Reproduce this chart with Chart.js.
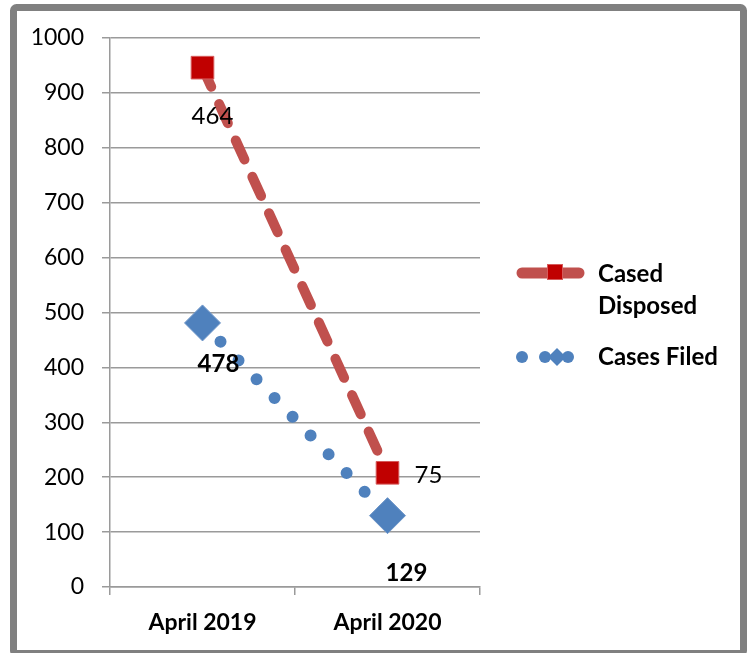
<!DOCTYPE html>
<html>
<head>
<meta charset="utf-8">
<script src="https://cdn.jsdelivr.net/npm/chart.js@4"></script>
<style>
  html, body { margin: 0; padding: 0; background: #ffffff; }
  #wrap { width: 750px; height: 653px; position: relative; }
</style>
</head>
<body>
<div id="wrap"><canvas id="c" width="750" height="653"></canvas></div>
<script>
const categories = ['April 2019', 'April 2020'];
const disposedValues = [946, 208];
const filedValues = [481, 130];
const disposedLabels = ['464', '75'];
const filedLabels = ['478', '129'];
const yTicks = [0, 100, 200, 300, 400, 500, 600, 700, 800, 900, 1000];
const seriesNames = [['Cased', 'Disposed'], ['Cases Filed']];

const FONT = 'Lato, "Open Sans", "Liberation Sans", sans-serif';
const RED_LINE = '#C0504D';
const RED_MARK = '#C00000';
const BLUE = '#4F81BD';
const GRID = '#9a9a9a';

const framePlugin = {
  id: 'frame',
  beforeDraw(chart) {
    const ctx = chart.ctx;
    ctx.save();
    ctx.fillStyle = '#ffffff';
    ctx.fillRect(0, 0, chart.width, chart.height);
    ctx.strokeStyle = '#808080';
    ctx.lineWidth = 7;
    ctx.beginPath();
    if (ctx.roundRect) ctx.roundRect(13.5, 7.5, 730, 646, 3); else ctx.rect(13.5, 7.5, 730, 646);
    ctx.stroke();
    ctx.restore();
  }
};

const labelPlugin = {
  id: 'pointLabels',
  afterDatasetsDraw(chart) {
    const ctx = chart.ctx;
    ctx.save();
    ctx.fillStyle = '#000000';
    ctx.textAlign = 'center';
    ctx.textBaseline = 'middle';
    const m0 = chart.getDatasetMeta(0).data;
    const m1 = chart.getDatasetMeta(1).data;
    ctx.font = '24px ' + FONT;
    ctx.fillText(disposedLabels[0], m0[0].x + 10, m0[0].y + 49);
    ctx.fillText(disposedLabels[1], m0[1].x + 41, m0[1].y + 2);
    ctx.font = 'bold 24px ' + FONT;
    ctx.fillText(filedLabels[0], m1[0].x + 16, m1[0].y + 41);
    ctx.fillText(filedLabels[1], m1[1].x + 19, m1[1].y + 58);
    ctx.restore();
  }
};

const legendPlugin = {
  id: 'customLegend',
  afterDraw(chart) {
    const ctx = chart.ctx;
    ctx.save();
    ctx.strokeStyle = RED_LINE;
    ctx.lineWidth = 11;
    ctx.lineCap = 'round';
    ctx.beginPath();
    ctx.moveTo(522, 273);
    ctx.lineTo(579, 273);
    ctx.stroke();
    ctx.fillStyle = RED_MARK;
    ctx.fillRect(547, 264, 16, 16);
    ctx.strokeStyle = '#D65A5A';
    ctx.lineWidth = 1;
    ctx.strokeRect(547.5, 264.5, 15, 15);
    ctx.fillStyle = BLUE;
    [522, 545, 568].forEach(x => {
      ctx.beginPath();
      ctx.arc(x, 357, 6, 0, Math.PI * 2);
      ctx.fill();
    });
    ctx.beginPath();
    ctx.moveTo(557, 348);
    ctx.lineTo(566, 357);
    ctx.lineTo(557, 366);
    ctx.lineTo(548, 357);
    ctx.closePath();
    ctx.fill();
    ctx.fillStyle = '#000000';
    ctx.font = 'bold 24px ' + FONT;
    ctx.textAlign = 'left';
    ctx.textBaseline = 'alphabetic';
    ctx.fillText(seriesNames[0][0], 598, 282);
    ctx.fillText(seriesNames[0][1], 598, 314);
    ctx.fillText(seriesNames[1][0], 598, 365);
    ctx.restore();
  }
};

new Chart(document.getElementById('c'), {
  type: 'line',
  data: {
    labels: categories,
    datasets: [
      {
        label: seriesNames[0].join(' '),
        data: disposedValues,
        borderColor: RED_LINE,
        borderWidth: 10,
        borderDash: [21, 19],
        borderCapStyle: 'round',
        fill: false,
        tension: 0,
        pointStyle: 'rect',
        pointRadius: 16,
        pointHoverRadius: 16,
        pointBackgroundColor: RED_MARK,
        pointBorderColor: '#D65A5A',
        pointBorderWidth: 1
      },
      {
        label: seriesNames[1][0],
        data: filedValues,
        borderColor: BLUE,
        borderWidth: 12,
        borderDash: [0.01, 26],
        borderCapStyle: 'round',
        fill: false,
        tension: 0,
        pointStyle: 'rectRot',
        pointRadius: 18,
        pointHoverRadius: 18,
        pointBackgroundColor: BLUE,
        pointBorderColor: '#6f97c9',
        pointBorderWidth: 1
      }
    ]
  },
  options: {
    responsive: false,
    devicePixelRatio: 1,
    animation: false,
    events: [],
    layout: { padding: { left: 0, top: 38, right: 270, bottom: 0 } },
    plugins: {
      legend: { display: false },
      tooltip: { enabled: false },
      title: { display: false }
    },
    scales: {
      x: {
        type: 'category',
        offset: true,
        grid: {
          offset: true,
          drawOnChartArea: false,
          drawTicks: true,
          tickLength: 8,
          color: GRID,
          lineWidth: 1.5
        },
        border: { display: true, color: GRID, width: 1.5 },
        ticks: {
          color: '#000000',
          font: { family: FONT, size: 23, weight: 'bold' },
          padding: 14,
          maxRotation: 0
        },
        afterFit(scale) { scale.height = 66; }
      },
      y: {
        min: 0,
        max: 1000,
        afterBuildTicks(scale) { scale.ticks = yTicks.map(v => ({ value: v })); },
        grid: {
          drawOnChartArea: true,
          drawTicks: true,
          tickLength: 8,
          color: GRID,
          lineWidth: 1.5
        },
        border: { display: true, color: GRID, width: 1.5 },
        ticks: {
          color: '#000000',
          font: { family: FONT, size: 23 },
          padding: 18,
          callback: (v) => String(v)
        },
        afterFit(scale) { scale.width = 110; }
      }
    }
  },
  plugins: [framePlugin, labelPlugin, legendPlugin]
});
</script>
</body>
</html>
